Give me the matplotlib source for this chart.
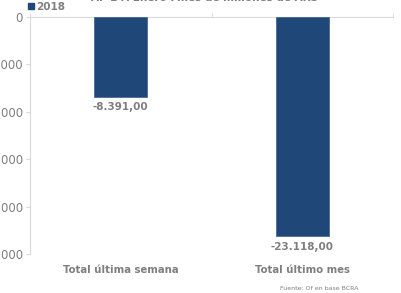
import matplotlib
matplotlib.use("Agg")
import matplotlib.pyplot as plt
from matplotlib.lines import Line2D

categories = ["Total última semana", "Total último mes"]
values_2018 = [-8391.00, -23118.00]
value_labels = ["-8.391,00", "-23.118,00"]
series_name = "2018"
yticks = [0, -5000, -10000, -15000, -20000, -25000]
ytick_labels = ["0", "-5.000", "-10.000", "-15.000", "-20.000", "-25.000"]
title = "AP 2 A Enero Miles de millones de ARS"
source = "Fuente: Of en base BCRA"

BAR = "#1F4778"
TXT = "#7F7F7F"
LINE = "#D9D9D9"

fig = plt.figure(figsize=(4.01, 2.93), dpi=100)
ax = fig.add_axes([30/401, 1-254/293, (393-30)/401, (254-17)/293])

x = list(range(len(categories)))
ax.bar(x, values_2018, width=0.29, color=BAR, edgecolor="#3A5F8F", linewidth=0.5, zorder=3)
for xi, v, lab in zip(x, values_2018, value_labels):
    ax.annotate(lab, (xi, v), xytext=(0, -4), textcoords="offset points",
                ha="center", va="top", color=TXT, fontsize=7.5, fontweight="bold")

ax.set_xlim(-0.5, 1.5)
ax.set_ylim(-25000, 0)
ax.set_yticks(yticks)
ax.set_yticklabels(ytick_labels)
ax.tick_params(axis="y", length=3, color=LINE, labelcolor=TXT, labelsize=8.5, pad=2)

ax.set_xticks(x)
ax.set_xticklabels(categories)
ax.tick_params(axis="x", which="major", length=0, labelcolor=TXT, labelsize=7.3, pad=8)
for t in ax.get_xticklabels():
    t.set_fontweight("bold")
ax.set_xticks([-0.5, 0.5, 1.5], minor=True)
ax.tick_params(axis="x", which="minor", top=True, bottom=False, length=3, color=LINE, direction="out")

for s in ["right", "bottom"]:
    ax.spines[s].set_visible(False)
for s in ["left", "top"]:
    ax.spines[s].set_color(LINE)
    ax.spines[s].set_linewidth(0.8)

handle = Line2D([], [], marker="s", linestyle="none", color=BAR, markersize=5)
fig.legend([handle], [series_name], loc="center left", bbox_to_anchor=(22/401, 1-7/293),
           frameon=False, labelcolor=TXT, handletextpad=0.1,
           borderpad=0, handlelength=0.8, prop={"weight": "bold", "size": 7.5})

fig.text(205/401, 1-1/293, title, ha="center", va="baseline", color=TXT, fontsize=7.5, fontweight="bold")
fig.text(319/401, 1-289/293, source, ha="center", va="center", color=TXT, fontsize=4.5)

fig.savefig("out.png", dpi=100)
